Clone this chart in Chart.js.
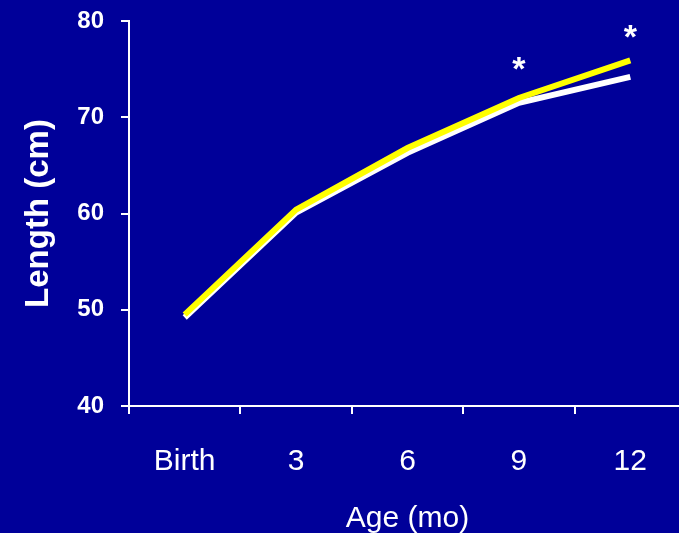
<!DOCTYPE html>
<html>
<head>
<meta charset="utf-8">
<script src="https://cdn.jsdelivr.net/npm/chart.js@4.4.0/dist/chart.umd.min.js"></script>
<style>
    html, body { margin: 0; padding: 0; background: #000099; overflow: hidden; }
    #wrap { position: relative; width: 686px; height: 533px; }
</style>
</head>
<body>
<div id="wrap"><canvas id="lengthChart"></canvas></div>
<script>
const categories = ['Birth', '3', '6', '9', '12'];
const yellowValues = [49.5, 60.4, 66.8, 72.0, 75.9];
const whiteValues = [49.2, 60.1, 66.3, 71.5, 74.2];
const yMin = 40, yMax = 80, yStep = 10;
// asterisks marking significant differences
const sigCategories = ['9', '12'];
const sigValues = [75.9, 79.2];

document.addEventListener("DOMContentLoaded", function () {
    var ctx = document.getElementById("lengthChart");
    Chart.defaults.font.family = "'Liberation Sans', Arial, sans-serif";
    Chart.defaults.color = '#ffffff';

    const asterisks = {
        id: 'asterisks',
        afterDatasetsDraw(chart) {
            const c = chart.ctx;
            const x = chart.scales.x, y = chart.scales.y;
            const size = 34;
            c.save();
            c.fillStyle = '#ffffff';
            c.font = "bold " + size + "px 'Liberation Sans', Arial, sans-serif";
            c.textAlign = 'center';
            c.textBaseline = 'alphabetic';
            sigCategories.forEach((cat, i) => {
                const px = x.getPixelForValue(categories.indexOf(cat));
                const py = y.getPixelForValue(sigValues[i]);
                c.fillText('*', px, py + 0.58 * size);
            });
            c.restore();
        }
    };

    new Chart(ctx, {
        type: 'line',
        data: {
            labels: categories,
            datasets: [{
                data: yellowValues,
                borderColor: '#ffff00',
                borderWidth: 6,
                pointRadius: 0,
                tension: 0
            }, {
                data: whiteValues,
                borderColor: '#ffffff',
                borderWidth: 6,
                pointRadius: 0,
                tension: 0
            }]
        },
        options: {
            responsive: true,
            maintainAspectRatio: false,
            animation: false,
            layout: { padding: { top: 21, left: 0, right: 0, bottom: 0 } },
            plugins: { legend: { display: false }, tooltip: { enabled: false } },
            scales: {
                x: {
                    offset: true,
                    grid: { offset: true, drawOnChartArea: false, color: '#ffffff', lineWidth: 2, tickLength: 8 },
                    border: { color: '#ffffff', width: 2 },
                    ticks: { color: '#ffffff', font: { size: 30 }, padding: 30, maxRotation: 0 },
                    title: { display: true, text: 'Age (mo)', color: '#ffffff', font: { size: 30 }, padding: { top: 0, bottom: -4 } },
                    afterFit: function (scale) { scale.height = 127; }
                },
                y: {
                    min: yMin,
                    max: yMax,
                    grid: { drawOnChartArea: false, color: '#ffffff', lineWidth: 2, tickLength: 8 },
                    border: { color: '#ffffff', width: 2 },
                    ticks: { stepSize: yStep, color: '#ffffff', font: { size: 24, weight: 'bold' }, padding: 17 },
                    title: { display: true, text: 'Length (cm)', color: '#ffffff', font: { size: 33, weight: 'bold' }, padding: { top: 19, bottom: 0 } },
                    afterFit: function (scale) {
                        scale.width = 129;
                        scale.paddingTop = 0;
                        scale.paddingBottom = 0;
                    }
                }
            }
        },
        plugins: [asterisks]
    });
});
</script>
</body>
</html>
